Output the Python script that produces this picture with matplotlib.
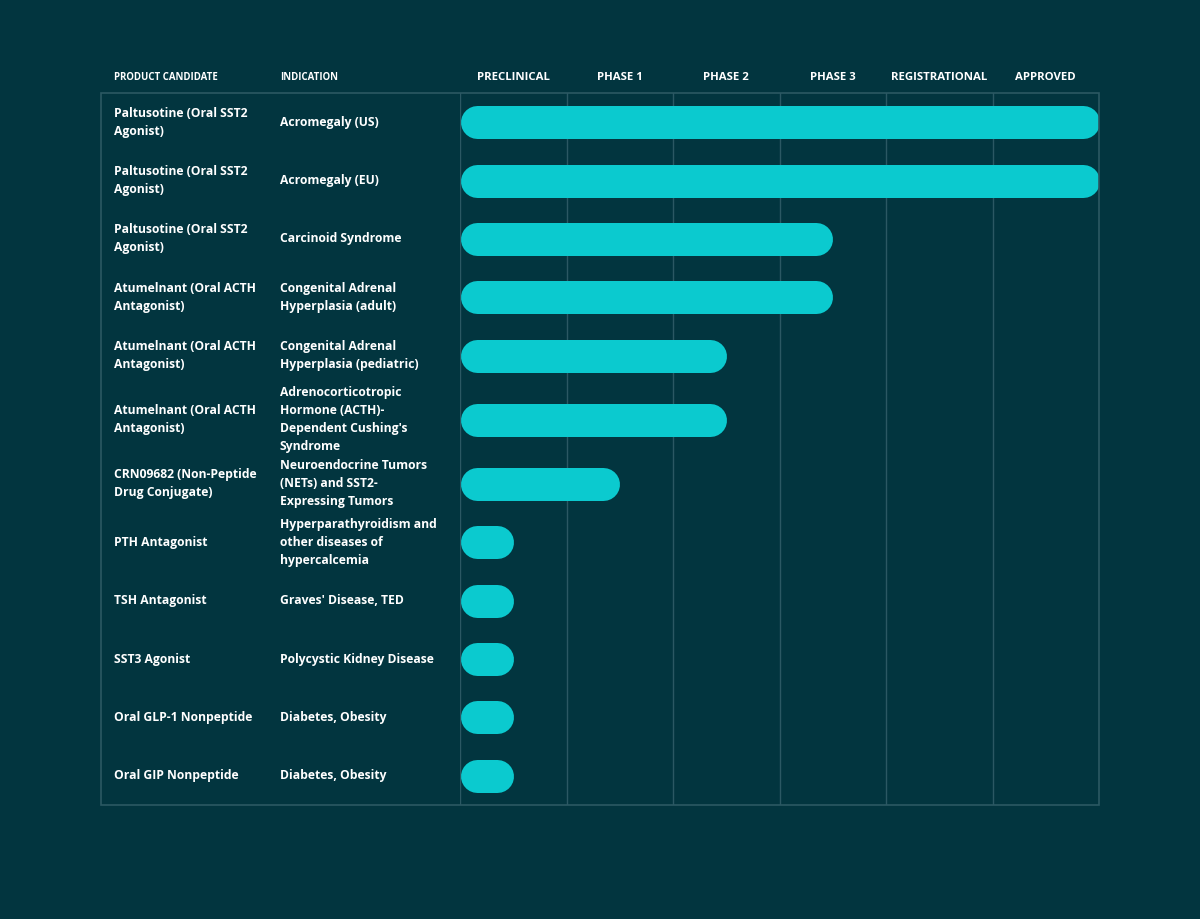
import numpy as np
import matplotlib.pyplot as plt
import matplotlib.transforms as mtransforms
from matplotlib.patches import Rectangle

plt.rcParams['font.family'] = ['Open Sans', 'DejaVu Sans']

phases = ['PRECLINICAL', 'PHASE 1', 'PHASE 2', 'PHASE 3', 'REGISTRATIONAL', 'APPROVED']

products = [
    'Paltusotine (Oral SST2\nAgonist)',
    'Paltusotine (Oral SST2\nAgonist)',
    'Paltusotine (Oral SST2\nAgonist)',
    'Atumelnant (Oral ACTH\nAntagonist)',
    'Atumelnant (Oral ACTH\nAntagonist)',
    'Atumelnant (Oral ACTH\nAntagonist)',
    'CRN09682 (Non-Peptide\nDrug Conjugate)',
    'PTH Antagonist',
    'TSH Antagonist',
    'SST3 Agonist',
    'Oral GLP-1 Nonpeptide',
    'Oral GIP Nonpeptide',
]

indications = [
    'Acromegaly (US)',
    'Acromegaly (EU)',
    'Carcinoid Syndrome',
    'Congenital Adrenal\nHyperplasia (adult)',
    'Congenital Adrenal\nHyperplasia (pediatric)',
    "Adrenocorticotropic\nHormone (ACTH)-\nDependent Cushing's\nSyndrome",
    'Neuroendocrine Tumors\n(NETs) and SST2-\nExpressing Tumors',
    'Hyperparathyroidism and\nother diseases of\nhypercalcemia',
    "Graves' Disease, TED",
    'Polycystic Kidney Disease',
    'Diabetes, Obesity',
    'Diabetes, Obesity',
]

# progress measured in phase columns
progress = [6.0, 6.0, 3.5, 3.5, 2.5, 2.5, 1.5, 0.5, 0.5, 0.5, 0.5, 0.5]

bg = '#02353f'
bar_c = '#0bcacf'
line_c = '#2b5863'
W, H = 1200, 919

fig = plt.figure(figsize=(12, 9.19), dpi=100, facecolor=bg)
ax = fig.add_axes([460 / W, 1 - 805 / H, (1099 - 460) / W, 712 / H])
ax.set_facecolor(bg)

# row heights (pixels): taller row for the 4-line indication
heights = np.array([70.0 if s.count('\n') >= 3 else 58.5 for s in indications])
edges = np.concatenate([[0], np.cumsum(heights)])
centers = (edges[:-1] + edges[1:]) / 2
ax.set_xlim(0, 6)
ax.set_ylim(edges[-1], 0)
ax.axis('off')

for x in range(0, 6):
    ax.axvline(x, color=line_c, lw=1)

# rounded bars as thick lines with round caps
col_px = (1099 - 460)
bar_h = 33
r = (bar_h / 2) / (col_px / 6)
for yc, p in zip(centers, progress):
    ax.plot([r, p - r], [yc, yc], color=bar_c, lw=bar_h * 72 / 100,
            solid_capstyle='round')

# outer box
fig.add_artist(Rectangle((101 / W, 1 - 805 / H), 998 / W, 712 / H,
                         transform=fig.transFigure, fill=False,
                         edgecolor=line_c, lw=1.2))

trans = mtransforms.blended_transform_factory(fig.transFigure, ax.transData)
for yc, prod, ind in zip(centers, products, indications):
    fig.text(114 / W, yc, prod, transform=trans, color='white', fontsize=8.7,
             fontweight='bold', va='center', ha='left', linespacing=1.5)
    fig.text(280 / W, yc, ind, transform=trans, color='white', fontsize=8.7,
             fontweight='bold', va='center', ha='left', linespacing=1.5)

hy = 1 - 77 / H
fig.text(114 / W, hy, 'PRODUCT CANDIDATE', color='white', fontsize=6.9,
         fontweight='bold', va='center', ha='left')
fig.text(280 / W, hy, 'INDICATION', color='white', fontsize=6.9,
         fontweight='bold', va='center', ha='left')
for i, ph in enumerate(phases):
    xc = (460 + (i + 0.5) * col_px / 6) / W
    fig.text(xc, hy, ph, color='white', fontsize=8.2, fontweight='bold',
             va='center', ha='center')

fig.savefig('out.png', dpi=100, facecolor=bg)
